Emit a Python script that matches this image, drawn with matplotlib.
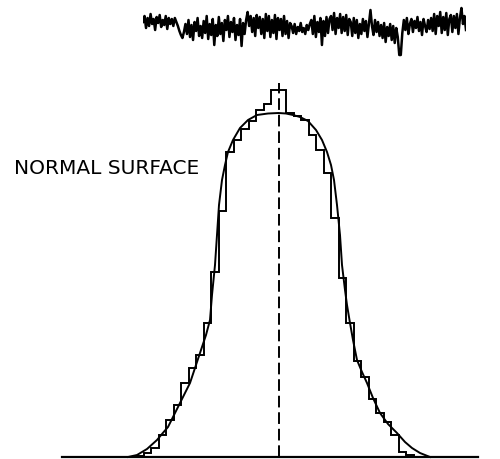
import numpy as np
import matplotlib
matplotlib.use("Agg")
import matplotlib.pyplot as plt

# ======================
# DATA
# ======================

bin_width = 7.5
# histogram heights, left half (outer -> centre) and right half (centre -> outer)
hist_left = [1, 4, 9, 22, 37, 52, 74, 89, 102, 134, 185, 246, 305, 317, 328, 336, 347, 353, 367]
hist_right = [367, 344, 341, 337, 322, 307, 284, 239, 179, 134, 96, 80, 58, 44, 35, 22, 5, 2, 0]

# smooth distribution curve (offset from centre, height)
curve_x = [-150.5, -141.5, -131.5, -121.5, -116.5, -110.5, -104.5, -98.5, -93.5, -88.5,
           -83.5, -78.5, -72.5, -68.5, -66.5, -63.5, -61.5, -59.5, -56.5, -53.5,
           -50.5, -45.5, -38.5, -30.5, -21.5, -10.5, 0,
           7.5, 14.5, 21.5, 29.5, 37.5, 43.5, 48.5, 52.5, 55.5, 58.5,
           61.5, 63.5, 66.5, 68.5, 71.5, 74.5, 78.5, 83.5, 88.5, 94.5,
           101.5, 109.5, 118.5, 126.5, 133.5, 141.5, 151.5]
curve_y = [0, 2, 8, 17, 23, 30, 42, 54, 64, 74,
           89, 104, 122, 137, 162, 192, 222, 252, 277, 292,
           305, 317, 329, 337, 342, 343.5, 344,
           343.5, 342, 340, 336, 327, 317, 305, 292, 277, 252,
           222, 192, 167, 152, 134, 117, 97, 85, 74, 59,
           44, 33, 24, 15, 9, 4, 0]

# surface profile trace (deviation from mean line)
profile = [6, 12, 0, 10, 2, 14, 4, 9, -2, 11, 5, 13, 1, 8, 3, 12, -1, 10, 4, 9, 2,
           10, 6, 2, -3, -7, -10, -4,
           4, -6, 8, -9, 3, -12, 6, -3, 10, -8, 2, -10, 7, -5, 12, -11, 4, -7, 9, -17,
           3, -8, 11, -6, 5, -13, 8, -2, 12, -9, 6, -4, 10, -12, 3, -7, 9, -18, 5, -6,
           8, 16, 2, 12, -4, 10, -8, 13, 0, 11, -6, 9, -10, 14, -3, 12, -9, 8, -5, 13,
           -11, 10, -2, 9, -8, 12, -6, 7, -10, 5,
           2, -5, 4, -6, 1, -3, 5, -4, 0, -6, 3, -2, 4,
           8, -6, 12, -9, 6, -4, 10, -17, 7, -8, 11, -5, 9,
           12, -2, 15, -6, 10, 0, 14, -5, 11, -3, 13, -7, 9,
           6, -8, 10, -5, 8, -10, 4, -6, 9, -3, 7, -9, 5, 18, 2, -7, 8, -4, 6, -8,
           3, -10, 5, -14, 1, -8, 4, -12, 2, -15, 0, -9, -27,
           -27, -5, 8, -2, 10, -6, 4, 9, -4, 7, 0, 11, -3, 6, -7, 9, 2, -4, 8, -1,
           10, -3, 14, -6, 12, 2, 16, -5, 11, -2, 15, -7, 9, 13, -4, 12, 0, 14, -6, 10,
           20, 4, 12, -2]

label = "NORMAL SURFACE"

# ======================
# FIGURE
# ======================

fig = plt.figure(figsize=(5.0, 4.59), dpi=100)
ax = fig.add_axes([0, 0, 1, 1])

n_side = len(hist_left)
edges = bin_width * np.arange(-n_side, n_side + 1)
values = np.array(hist_left + hist_right)

ax.stairs(values, edges, color="black", lw=1.4)
ax.plot(curve_x, curve_y, color="black", lw=1.4)

# baseline and centre line
ax.plot([-216.5, 199.5], [0, 0], color="black", lw=1.6)
ax.plot([0, 0], [0, 374], color="black", lw=1.4, dashes=(6, 2.5))

ax.text(-264, 289, label, fontsize=14.5, ha="left", va="center",
        family="DejaVu Sans", color="black")

ax.set_xlim(-278.5, 221.5)
ax.set_ylim(-2, 457)
ax.axis("off")

# profile trace on top
ax2 = fig.add_axes([143 / 500, 1 - 58 / 459, (466 - 143) / 500, 53 / 459])
px = np.linspace(0, 1, len(profile))
ax2.plot(px, profile, color="black", lw=1.8)
ax2.set_xlim(0, 1)
ax2.set_ylim(-30, 23)
ax2.axis("off")

fig.savefig("out.png", dpi=100, facecolor="white")
